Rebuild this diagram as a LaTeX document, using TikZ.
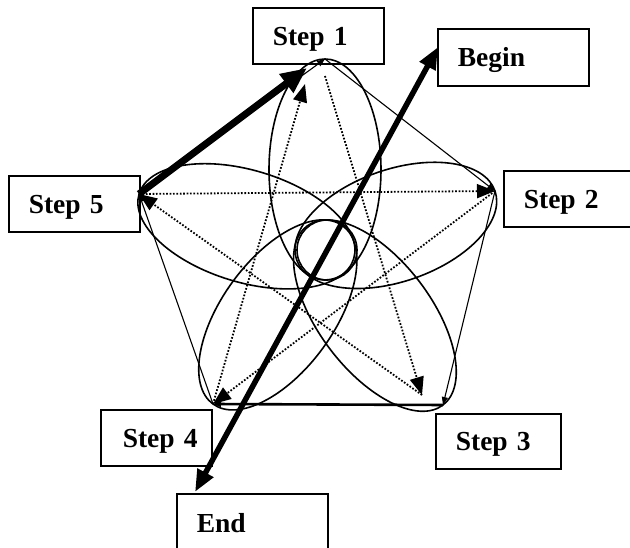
\documentclass[tikz,border=0pt]{standalone}
\usepackage{fontspec}
\setmainfont{Liberation Serif}
\usetikzlibrary{arrows.meta}
\begin{document}
\begin{tikzpicture}[x=1pt,y=-1pt,
  box/.style={draw, line width=1.6pt, anchor=north west, inner xsep=20pt, inner ysep=0pt,
    align=left, text height=19pt, text depth=0pt, font=\fontsize{27.5}{30}\selectfont\bfseries},
  edge/.style={line width=1.1pt, -{Triangle[length=8pt,width=6pt]}},
  star/.style={line width=1.8pt, dash pattern=on 1.7pt off 1.7pt, -{Triangle[length=18pt,width=14pt]}},
  petal/.style={line width=1.6pt},
  heavy/.style={line width=7pt, -{Triangle[length=26pt,width=22pt]}},
  route/.style={line width=5.5pt, {Triangle[length=22pt,width=17pt]}-{Triangle[length=22pt,width=17pt]}}
]
\useasboundingbox (0,0) rectangle (630,548);

% boxes
\node[box, text width=91pt, minimum height=56pt] (s1) at (252,7) {\mbox{Step 1}};
\node[box, text width=111pt, minimum height=57pt] (begin) at (437,28) {\mbox{Begin}};
\node[box, text width=92pt, minimum height=56pt] (s2) at (503,170) {\mbox{Step 2}};
\node[box, text width=91pt, minimum height=56pt] (s5) at (8,175) {\mbox{Step 5}};
\node[box, inner xsep=22pt, text width=67pt, minimum height=56pt] (s4) at (100,409) {\mbox{Step 4}};
\node[box, text width=85pt, minimum height=55pt] (s3) at (435,413) {\mbox{Step 3}};
\node[box, text width=111pt, minimum height=58pt] (end) at (176,493) {\mbox{End}};

% pentagon vertices and helper points
\coordinate (v1) at (325,59);
\coordinate (v2) at (495,191);
\coordinate (v3) at (443,405);
\coordinate (v4) at (213,404);
\coordinate (v5) at (139,194);
\coordinate (o) at (327,250);
\coordinate (a1) at (305,84);
\coordinate (s1t) at (325,76);
\coordinate (a3) at (422,395);
\coordinate (h1) at (307,68);
\coordinate (bt) at (438,47);
\coordinate (et) at (195,492);

% petals
\draw[petal] (325,169.5) ellipse[x radius=110.5pt, y radius=56pt, rotate=90];
\draw[petal] (395.8,225.4) ellipse[x radius=105pt, y radius=56pt, rotate=19.13];
\draw[petal] (374.9,315.6) ellipse[x radius=112.4pt, y radius=56pt, rotate=127.28];
\draw[petal] (277.8,314.9) ellipse[x radius=110.2pt, y radius=56pt, rotate=53.97];
\draw[petal] (246.4,226.3) ellipse[x radius=112.1pt, y radius=56pt, rotate=-16.76];
\draw[petal] (o) circle[radius=30pt];

% pentagon edges
\draw[edge] (v1) -- (v2);
\draw[edge] (v2) -- (v3);
\draw[edge, line width=2.6pt] (v3) -- (v4);
\draw[edge] (v4) -- (v5);
\draw[edge] (v5) -- (v1);

% star (dotted)
\draw[star] (v5) -- (v2);
\draw[star] (v2) -- (v4);
\draw[star] (v4) -- (a1);
\draw[star] (s1t) -- (a3);
\draw[star] (a3) -- (v5);

% heavy arrows
\draw[heavy] (v5) -- (h1);
\draw[route] (et) -- (bt);
\end{tikzpicture}
\end{document}
